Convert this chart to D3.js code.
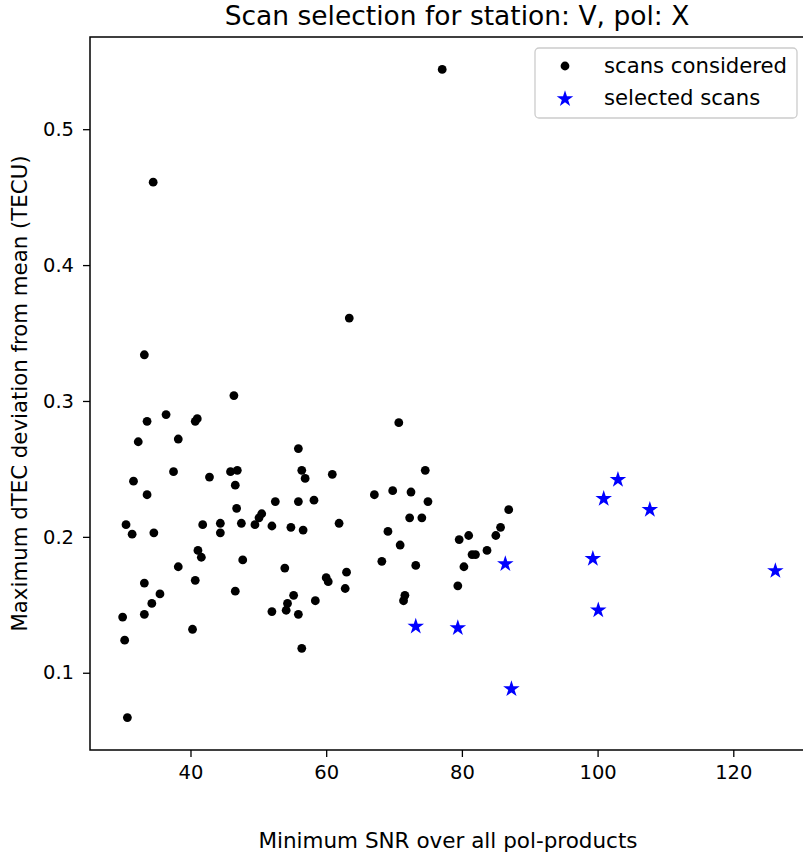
<!DOCTYPE html>
<html>
<head>
<meta charset="utf-8">
<script src="https://cdn.jsdelivr.net/npm/d3@7"></script>
<style>
  html, body { margin: 0; padding: 0; background: #fff; }
  svg { display: block; font-family: "DejaVu Sans", sans-serif; }
</style>
</head>
<body>
<div id="chart"></div>
<script>
// ---- data ----
const consideredSNR = [34.5, 77.1, 33.2, 46.4, 36.4, 33.6, 40.7, 41.0, 32.3, 38.2,
  55.9, 37.5, 42.8, 45.9, 46.9, 56.4, 56.9, 31.6, 33.6, 46.6,
  46.8, 52.5, 55.9, 58.2, 30.5, 31.4, 34.6, 41.8, 44.4, 44.4,
  47.5, 49.5, 50.1, 50.5, 52.0, 54.8, 56.6, 41.1, 41.6, 47.7,
  38.2, 53.9, 60.0, 60.3, 33.2, 40.7, 35.5, 34.3, 33.2, 46.6,
  55.2, 54.3, 54.1, 52.0, 55.9, 58.4, 30.0, 30.3, 40.3, 56.4,
  30.7, 63.4, 70.7, 60.9, 74.6, 67.1, 69.8, 72.5, 75.0, 86.9,
  61.9, 72.3, 74.1, 69.1, 85.7, 85.0, 81.0, 79.6, 70.9, 83.7,
  81.5, 82.0, 68.2, 73.2, 80.3, 63.0, 62.8, 79.4, 71.6, 71.4];
const consideredDTEC = [0.461, 0.544, 0.334, 0.304, 0.290, 0.285, 0.285, 0.287, 0.270, 0.272,
  0.265, 0.248, 0.244, 0.248, 0.249, 0.249, 0.243, 0.241, 0.231, 0.238,
  0.221, 0.226, 0.226, 0.227, 0.209, 0.202, 0.203, 0.209, 0.210, 0.203,
  0.210, 0.209, 0.214, 0.217, 0.208, 0.207, 0.205, 0.190, 0.185, 0.183,
  0.178, 0.177, 0.170, 0.167, 0.166, 0.168, 0.158, 0.151, 0.143, 0.160,
  0.157, 0.151, 0.146, 0.145, 0.143, 0.153, 0.141, 0.124, 0.132, 0.118,
  0.067, 0.361, 0.284, 0.246, 0.249, 0.231, 0.234, 0.233, 0.226, 0.220,
  0.210, 0.214, 0.214, 0.204, 0.207, 0.201, 0.201, 0.198, 0.194, 0.190,
  0.187, 0.187, 0.182, 0.179, 0.178, 0.174, 0.162, 0.164, 0.157, 0.153];
const selectedSNR  = [73.2, 79.4, 87.3, 86.4, 103.0, 100.9, 107.7, 99.3, 126.2, 100.1];
const selectedDTEC = [0.134, 0.133, 0.088, 0.180, 0.242, 0.228, 0.220, 0.184, 0.175, 0.146];
const xTicks = [40, 60, 80, 100, 120];
const yTicks = [0.1, 0.2, 0.3, 0.4, 0.5];
const legendLabels = ["scans considered", "selected scans"];
const titleText = "Scan selection for station: V, pol: X";
const xLabelText = "Minimum SNR over all pol-products";
const yLabelText = "Maximum dTEC deviation from mean (TECU)";

// ---- layout ----
const W = 803, H = 857;
const margin = { left: 90, top: 37 };
const innerW = 718, innerH = 713;

const svg = d3.select("#chart").append("svg").attr("width", W).attr("height", H);
const g = svg.append("g").attr("transform", `translate(${margin.left},${margin.top})`);

const allX = consideredSNR.concat(selectedSNR);
const allY = consideredDTEC.concat(selectedDTEC);
const [x0, x1] = d3.extent(allX);
const [y0, y1] = d3.extent(allY);
const px = (x1 - x0) * 0.05, py = (y1 - y0) * 0.05;

const x = d3.scaleLinear().domain([x0 - px, x1 + px]).range([0, innerW]);
const y = d3.scaleLinear().domain([y0 - py, y1 + py]).range([innerH, 0]);

// axes
const xAxis = d3.axisBottom(x).tickValues(xTicks).tickFormat(d3.format("d")).tickSize(7).tickPadding(8);
const yAxis = d3.axisLeft(y).tickValues(yTicks).tickFormat(d3.format(".1f")).tickSize(7).tickPadding(9);

const gx = g.append("g").attr("transform", `translate(0,${innerH})`).call(xAxis);
const gy = g.append("g").call(yAxis);
[gx, gy].forEach(a => {
  a.select(".domain").remove();
  a.selectAll("line").attr("stroke", "#000").attr("stroke-width", 1.3);
  a.selectAll("text").attr("fill", "#000").style("font-size", "19.5px")
    .style("font-family", "'DejaVu Sans', sans-serif");
});

// frame
g.append("rect").attr("x", 0).attr("y", 0).attr("width", innerW).attr("height", innerH)
  .attr("fill", "none").attr("stroke", "#000").attr("stroke-width", 1.5);

// points
const considered = consideredSNR.map((v, i) => ({ x: v, y: consideredDTEC[i] }));
const selected = selectedSNR.map((v, i) => ({ x: v, y: selectedDTEC[i] }));

g.append("g").selectAll("circle").data(considered).join("circle")
  .attr("cx", d => x(d.x)).attr("cy", d => y(d.y)).attr("r", 4.4).attr("fill", "#000");

const star = d3.symbol().type(d3.symbolStar).size(85);
g.append("g").selectAll("path").data(selected).join("path")
  .attr("d", star).attr("transform", d => `translate(${x(d.x)},${y(d.y)})`)
  .attr("fill", "#0000ff");

// title & labels
svg.append("text").attr("x", margin.left + 367).attr("y", 25).attr("text-anchor", "middle")
  .style("font-size", "26.5px").attr("fill", "#000").text(titleText);
svg.append("text").attr("x", margin.left + 358).attr("y", 848).attr("text-anchor", "middle")
  .style("font-size", "21.5px").attr("fill", "#000").text(xLabelText);
svg.append("text").attr("transform", `translate(27,${margin.top + innerH / 2}) rotate(-90)`)
  .attr("text-anchor", "middle").style("font-size", "21.3px").attr("fill", "#000").text(yLabelText);

// legend
const lg = svg.append("g").attr("transform", "translate(535,48)");
lg.append("rect").attr("width", 262).attr("height", 70).attr("rx", 4)
  .attr("fill", "#fff").attr("fill-opacity", 0.8).attr("stroke", "#cccccc").attr("stroke-width", 1.3);
lg.append("circle").attr("cx", 30).attr("cy", 18).attr("r", 4.4).attr("fill", "#000");
lg.append("path").attr("d", star).attr("transform", "translate(30,51)").attr("fill", "#0000ff");
lg.selectAll("text.lbl").data(legendLabels).join("text").attr("class", "lbl")
  .attr("x", 69).attr("y", (d, i) => 25 + i * 32)
  .style("font-size", "21.2px").attr("fill", "#000").text(d => d);
</script>
</body>
</html>
